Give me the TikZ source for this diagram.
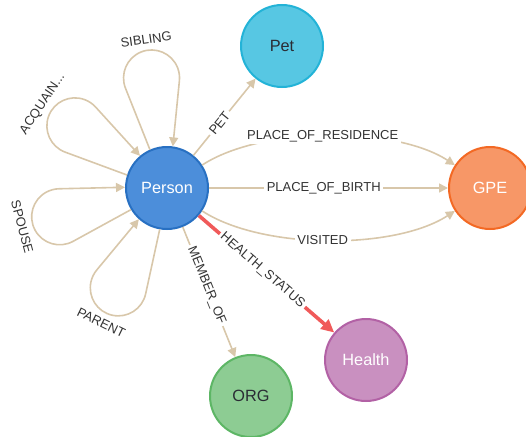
\documentclass[tikz,border=0pt]{standalone}
\usepackage{fontspec}
\setmainfont{Liberation Sans}
\usetikzlibrary{arrows.meta,calc}
\definecolor{edgec}{HTML}{D8C7AA}
\definecolor{redc}{HTML}{F05A5A}
\definecolor{labc}{HTML}{333333}
\definecolor{darktext}{HTML}{2A2C34}
\definecolor{personf}{HTML}{4C8EDA}\definecolor{persond}{HTML}{2870C2}
\definecolor{petf}{HTML}{57C7E3}\definecolor{petd}{HTML}{23B3D7}
\definecolor{gpef}{HTML}{F79767}\definecolor{gped}{HTML}{F36924}
\definecolor{healthf}{HTML}{C990C0}\definecolor{healthd}{HTML}{B261A5}
\definecolor{orgf}{HTML}{8DCC93}\definecolor{orgd}{HTML}{5DB665}
\newcommand\perloop[3]{%
  \pgfmathsetmacro\lpA{#1+16}%
  \pgfmathsetmacro\lpB{#1-16}%
  \pgfmathsetmacro\lpC{#1+13.7}%
  \pgfmathsetmacro\lpS{#1+103.7}%
  \pgfmathsetmacro\lpE{#1-103.7}%
  \draw[rel] (person.\lpA) -- ++(\lpC:66) arc[start angle=\lpS, end angle=\lpE, radius=28] -- (person.\lpB);
  \node[looplbl, rotate=#3] at ($(person.center)+(#1:150)$) {#2};%
}
\begin{document}
\begin{tikzpicture}[x=1pt,y=1pt,
  ent/.style={circle, minimum size=82pt, inner sep=0pt, line width=2pt, font=\fontsize{16.3}{18}\selectfont},
  rel/.style={draw=edgec, line width=1.6pt, -{Triangle[length=9pt,width=9pt]}},
  redrel/.style={draw=redc, line width=3.6pt, -{Triangle[length=13pt,width=12pt]}},
  lbl/.style={fill=white, inner sep=2.5pt, text=labc, font=\fontsize{13}{15}\selectfont},
  looplbl/.style={inner sep=0pt, text=labc, font=\fontsize{13}{15}\selectfont},
  ]
\useasboundingbox (0,0) rectangle (526,-436);
\node[ent, fill=personf, draw=persond, text=white] (person) at (167,-188) {Person};
\node[ent, fill=petf, draw=petd, text=darktext] (pet) at (282,-46) {Pet};
\node[ent, fill=gpef, draw=gped, text=white] (gpe) at (490,-188) {GPE};
\node[ent, fill=healthf, draw=healthd, text=white] (health) at (366,-360) {Health};
\node[ent, fill=orgf, draw=orgd, text=darktext] (org) at (251,-396) {ORG};

\perloop{98}{SIBLING}{8}
\perloop{146}{ACQUAIN...}{56}
\perloop{195}{SPOUSE}{-75}
\perloop{244}{PARENT}{-26}

\draw[rel] (person) -- node[lbl, sloped, pos=0.42] {PET} (pet);
\draw[rel] (person) .. controls (262,-126) and (395,-126) .. node[lbl, pos=0.48] {PLACE\_OF\_RESIDENCE} (gpe);
\draw[rel] (person) -- node[lbl, pos=0.48] {PLACE\_OF\_BIRTH} (gpe);
\draw[rel] (person) .. controls (262,-250) and (395,-250) .. node[lbl, pos=0.48] {VISITED} (gpe);
\draw[rel] (person) -- node[lbl, sloped, pos=0.45] {MEMBER\_OF} (org);
\draw[redrel] (person) -- node[lbl, sloped, pos=0.47] {HEALTH\_STATUS} (health);
\end{tikzpicture}
\end{document}
